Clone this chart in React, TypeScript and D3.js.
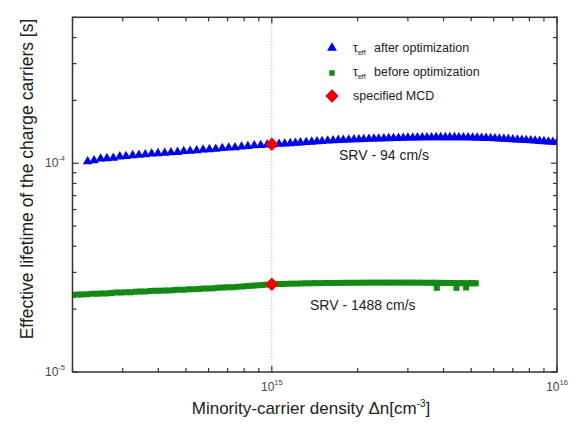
import React from "react";
import * as d3 from "d3";

const W = 576;
const H = 426;
const frame = { left: 72.5, right: 557, top: 17.3, bottom: 372 };

// tau_eff after optimization: density in 1e14 cm^-3, lifetime in 1e-4 s
const afterDensity = [
  2.26, 2.38, 2.51, 2.64, 2.78, 2.93, 3.08, 3.25, 3.42, 3.6, 3.79, 3.99, 4.21, 4.43, 4.67,
  4.91, 5.17, 5.45, 5.74, 6.04, 6.36, 6.7, 7.06, 7.43, 7.83, 8.24, 8.68, 9.14, 9.63, 10.1,
  10.6, 11.1, 11.6, 12.1, 12.6, 13.2, 13.8, 14.4, 15.0, 15.7, 16.4, 17.1, 17.8, 18.6, 19.4,
  20.2, 21.0, 21.9, 22.8, 23.7, 24.7, 25.7, 26.7, 27.8, 28.9, 30.0, 31.2, 32.4, 33.7, 35.0,
  36.3, 37.7, 39.1, 40.6, 42.1, 43.7, 45.3, 47.0, 48.8, 50.6, 52.5, 54.4, 56.4, 58.5, 60.6,
  62.8, 65.1, 67.5, 70.0, 72.6, 75.3, 78.0, 80.9, 83.8, 86.9, 90.0, 93.3, 96.7, 100,
];
const afterTau = [
  1.02, 1.03, 1.05, 1.055, 1.06, 1.075, 1.08, 1.09, 1.095, 1.1, 1.11, 1.115, 1.12, 1.125, 1.13,
  1.14, 1.145, 1.15, 1.16, 1.165, 1.17, 1.18, 1.185, 1.19, 1.2, 1.205, 1.215, 1.22, 1.225, 1.23,
  1.235, 1.24, 1.245, 1.25, 1.255, 1.26, 1.265, 1.27, 1.275, 1.28, 1.285, 1.29, 1.292, 1.295, 1.298,
  1.3, 1.303, 1.306, 1.309, 1.311, 1.313, 1.315, 1.317, 1.319, 1.321, 1.323, 1.325, 1.326, 1.327, 1.328,
  1.329, 1.33, 1.33, 1.33, 1.33, 1.33, 1.329, 1.328, 1.327, 1.325, 1.323, 1.321, 1.319, 1.316, 1.313,
  1.31, 1.307, 1.304, 1.3, 1.296, 1.292, 1.288, 1.284, 1.28, 1.276, 1.272, 1.268, 1.264, 1.26,
];

// tau_eff before optimization: density in 1e14 cm^-3, lifetime in 1e-5 s
const beforeDensity = [
  2.0, 2.08, 2.16, 2.25, 2.34, 2.43, 2.53, 2.63, 2.74, 2.85, 2.96, 3.08, 3.2, 3.33, 3.46,
  3.6, 3.75, 3.9, 4.05, 4.21, 4.38, 4.56, 4.74, 4.93, 5.13, 5.33, 5.55, 5.77, 6.0, 6.24,
  6.49, 6.75, 7.02, 7.3, 7.59, 7.9, 8.21, 8.54, 8.88, 9.24, 9.61, 10.0, 10.4, 10.8, 11.2,
  11.7, 12.2, 12.7, 13.2, 13.7, 14.2, 14.8, 15.4, 16.0, 16.7, 17.3, 18.0, 18.7, 19.5, 20.3,
  21.1, 21.9, 22.8, 23.7, 24.7, 25.6, 26.7, 27.7, 28.8, 30.0, 31.2, 32.4, 33.7, 35.1, 36.5,
  37.2, 37.9, 38.6, 39.5, 41.0, 42.7, 43.5, 44.4, 45.3, 46.2, 47.1, 48.0, 49.0, 49.9, 50.9, 51.9,
];
const beforeTau = [
  2.34, 2.35, 2.35, 2.36, 2.37, 2.37, 2.38, 2.38, 2.39, 2.4, 2.4, 2.41, 2.41, 2.42, 2.43,
  2.43, 2.44, 2.45, 2.45, 2.46, 2.46, 2.47, 2.48, 2.48, 2.49, 2.49, 2.5, 2.51, 2.51, 2.52,
  2.53, 2.54, 2.55, 2.55, 2.56, 2.57, 2.58, 2.59, 2.6, 2.61, 2.62, 2.63, 2.64, 2.64, 2.645,
  2.65, 2.65, 2.655, 2.66, 2.66, 2.665, 2.665, 2.67, 2.67, 2.67, 2.672, 2.674, 2.675, 2.676, 2.677,
  2.678, 2.68, 2.68, 2.68, 2.68, 2.68, 2.68, 2.68, 2.68, 2.68, 2.68, 2.68, 2.678, 2.676, 2.675,
  2.674, 2.53, 2.673, 2.672, 2.67, 2.668, 2.667, 2.53, 2.666, 2.665, 2.664, 2.54, 2.663, 2.663, 2.662, 2.66,
];

// specified MCD markers
const mcdDensity = [1e15, 1e15];
const mcdTau = [1.232e-4, 2.63e-5];

const xTickLabels = [
  { value: 1e15, exp: "15" },
  { value: 1e16, exp: "16" },
];
const yTickLabels = [
  { value: 1e-4, exp: "-4" },
  { value: 1e-5, exp: "-5" },
];

const font = "Arial, 'Liberation Sans', sans-serif";

export default function App() {
  const x = d3.scaleLog().domain([2e14, 1e16]).range([frame.left, frame.right]);
  const y = d3.scaleLog().domain([1e-5, 5e-4]).range([frame.bottom, frame.top]);

  const triangle = d3.symbol(d3.symbolTriangle, 40)() as string;
  const square = d3.symbol(d3.symbolSquare, 36)() as string;
  const diamond = d3.symbol(d3.symbolSquare, 90)() as string;

  const isMajor = (v: number) => Math.abs(Math.log10(v) - Math.round(Math.log10(v))) < 1e-6;
  const xTicks = x.ticks();
  const yTicks = y.ticks();
  const tickLen = (v: number) => (isMajor(v) ? 6 : 4);

  const after = afterDensity.map((d, i) => [d * 1e14, afterTau[i] * 1e-4]);
  const before = beforeDensity.map((d, i) => [d * 1e14, beforeTau[i] * 1e-5]);

  return (
    <svg
      width={W}
      height={H}
      style={{ position: "absolute", left: 0, top: 0, background: "#fff" }}
      fontFamily={font}
    >
      <defs>
        <clipPath id="plot">
          <rect x={frame.left} y={frame.top} width={frame.right - frame.left} height={frame.bottom - frame.top} />
        </clipPath>
      </defs>

      {/* dotted marker line at 1e15 */}
      <line
        x1={x(1e15)}
        x2={x(1e15)}
        y1={frame.top}
        y2={frame.bottom}
        stroke="#888"
        strokeWidth={0.8}
        strokeDasharray="1,2"
      />

      <g clipPath="url(#plot)">
        {before.map((p, i) => (
          <path key={"b" + i} d={square} transform={`translate(${x(p[0])},${y(p[1])})`} fill="#138a13" />
        ))}
        {after.map((p, i) => (
          <path key={"a" + i} d={triangle} transform={`translate(${x(p[0])},${y(p[1])})`} fill="#0000f0" />
        ))}
        {mcdDensity.map((d, i) => (
          <path
            key={"m" + i}
            d={diamond}
            transform={`translate(${x(d)},${y(mcdTau[i])}) rotate(45)`}
            fill="#f00000"
          />
        ))}
      </g>

      {/* frame */}
      <rect
        x={frame.left}
        y={frame.top}
        width={frame.right - frame.left}
        height={frame.bottom - frame.top}
        fill="none"
        stroke="#333"
        strokeWidth={1.5}
      />

      {/* ticks, all pointing inward */}
      <g stroke="#333" strokeWidth={1.2}>
        {xTicks.map((v, i) => (
          <g key={"xt" + i}>
            <line x1={x(v)} x2={x(v)} y1={frame.bottom} y2={frame.bottom - tickLen(v)} />
            <line x1={x(v)} x2={x(v)} y1={frame.top} y2={frame.top + tickLen(v)} />
          </g>
        ))}
        {yTicks.map((v, i) => (
          <g key={"yt" + i}>
            <line x1={frame.left} x2={frame.left + tickLen(v)} y1={y(v)} y2={y(v)} />
            <line x1={frame.right} x2={frame.right - tickLen(v)} y1={y(v)} y2={y(v)} />
          </g>
        ))}
      </g>

      {/* tick labels */}
      <g fill="#444" fontSize={12}>
        {xTickLabels.map((t) => (
          <text key={t.exp} x={x(t.value)} y={391} textAnchor="middle">
            10<tspan fontSize={7.5} dy={-6}>{t.exp}</tspan>
          </text>
        ))}
        {yTickLabels.map((t) => (
          <text key={t.exp} x={65} y={y(t.value) + 4} textAnchor="end">
            10<tspan fontSize={7.5} dy={-6}>{t.exp}</tspan>
          </text>
        ))}
      </g>

      {/* axis titles */}
      <text x={311} y={414} textAnchor="middle" fontSize={17} fill="#222">
        Minority-carrier density Δn[cm<tspan fontSize={10} dy={-7}>-3</tspan>
        <tspan dy={7}>]</tspan>
      </text>
      <text
        transform={`translate(33,179) rotate(-90)`}
        textAnchor="middle"
        fontSize={17.5}
        fill="#222"
      >
        Effective lifetime of the charge carriers [s]
      </text>

      {/* legend */}
      <g fill="#222" fontSize={12.5}>
        <path d={d3.symbol(d3.symbolTriangle, 42)() as string} transform="translate(332,48)" fill="#0000f0" />
        <text x={353} y={52}>
          τ<tspan fontSize={7} dy={3}>eff</tspan>
        </text>
        <text x={374} y={52}>after optimization</text>

        <path d={d3.symbol(d3.symbolSquare, 30)() as string} transform="translate(332,73)" fill="#138a13" />
        <text x={353} y={76}>
          τ<tspan fontSize={7} dy={3}>eff</tspan>
        </text>
        <text x={374} y={76}>before optimization</text>

        <path d={diamond} transform="translate(332,96) rotate(45)" fill="#f00000" />
        <text x={353} y={100}>specified MCD</text>
      </g>

      {/* annotations */}
      <text x={339} y={160} fontSize={14} fill="#222">SRV - 94 cm/s</text>
      <text x={310} y={310} fontSize={14} fill="#222">SRV - 1488 cm/s</text>
    </svg>
  );
}
